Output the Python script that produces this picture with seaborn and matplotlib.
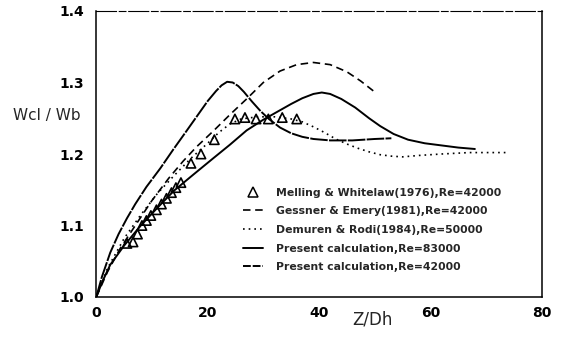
import matplotlib
matplotlib.use("Agg")
import matplotlib.pyplot as plt
from matplotlib.lines import Line2D
import seaborn as sns
import pandas as pd

# Melling & Whitelaw (1976), Re=42000 (triangles)
mw_x = [5.5, 6.6, 7.4, 8.2, 9.0, 9.8, 10.8, 11.7, 12.6, 13.5, 14.3, 15.2,
        17.0, 18.8, 21.2, 24.9, 26.7, 28.7, 30.9, 33.4, 36.0]
mw_y = [1.075, 1.077, 1.088, 1.100, 1.107, 1.114, 1.122, 1.130, 1.138, 1.146,
        1.153, 1.160, 1.187, 1.200, 1.220, 1.249, 1.251, 1.249, 1.249, 1.251, 1.249]

# Gessner & Emery (1981), Re=42000 (dashed)
ge_x = [0, 2, 4.3, 7, 10, 13, 15.6, 18, 21, 24, 27, 30, 33, 36, 39, 42, 45, 47.5, 49.8]
ge_y = [1.0, 1.035, 1.068, 1.1, 1.135, 1.166, 1.19, 1.21, 1.232, 1.255, 1.277,
        1.3, 1.316, 1.325, 1.328, 1.325, 1.315, 1.302, 1.288]

# Demuren & Rodi (1984), Re=50000 (dotted)
dr_x = [0, 2, 5, 8, 11, 14, 17, 20, 22, 24, 26, 29, 32, 35, 37, 39, 41, 43,
        45, 47, 49, 51, 53, 55, 58, 62, 67, 73.7]
dr_y = [1.0, 1.04, 1.082, 1.115, 1.145, 1.17, 1.194, 1.215, 1.23, 1.242, 1.249,
        1.252, 1.252, 1.249, 1.245, 1.238, 1.23, 1.221, 1.214, 1.208, 1.203,
        1.199, 1.197, 1.196, 1.198, 1.2, 1.202, 1.202]

# Present calculation, Re=83000 (solid)
p83_x = [0, 1, 2.5, 5, 8, 11, 14, 17.4, 21, 24, 27, 30, 32.5, 35, 37, 39, 40.5,
         42, 44, 46.5, 49, 51, 53.4, 56, 59, 62, 65, 68]
p83_y = [1.0, 1.02, 1.045, 1.072, 1.1, 1.125, 1.149, 1.171, 1.194, 1.213, 1.233,
         1.248, 1.259, 1.27, 1.278, 1.284, 1.286, 1.284, 1.277, 1.265, 1.25, 1.239,
         1.228, 1.22, 1.215, 1.212, 1.209, 1.207]

# Present calculation, Re=42000
p42_x = [0, 1, 2.5, 4, 5.5, 7, 9, 11.5, 13.8, 16, 18, 20, 21.5, 22.5, 23.5, 24.5,
         25.5, 26.5, 28, 29.5, 31, 33, 35, 37, 39, 42, 46, 50, 53]
p42_y = [1.0, 1.028, 1.062, 1.088, 1.11, 1.13, 1.154, 1.18, 1.206, 1.23, 1.252,
         1.274, 1.288, 1.296, 1.301, 1.3, 1.295, 1.287, 1.273, 1.26, 1.249, 1.237,
         1.229, 1.224, 1.221, 1.219, 1.219, 1.221, 1.222]

labels = ["Melling & Whitelaw(1976),Re=42000",
          "Gessner & Emery(1981),Re=42000",
          "Demuren & Rodi(1984),Re=50000",
          "Present calculation,Re=83000",
          "Present calculation,Re=42000"]

x_ticks = [0, 20, 40, 60, 80]
y_ticks = [1.0, 1.1, 1.2, 1.3, 1.4]

sns.set_style("white")
plt.rcParams['font.family'] = ['DejaVu Sans']

fig = plt.figure(figsize=(5.61, 3.40), dpi=100)
ax = fig.add_axes([96.3 / 561, 1 - 297 / 340, (541.7 - 96.3) / 561, (297 - 11) / 340])

lw = 1.2
styles = {
    "ge": (0, (4.5, 2.8)),
    "dr": (0, (1, 2.4)),
    "p83": "-",
    "p42": (0, (9, 0.7)),
}

def draw_line(xs, ys, style, width):
    df = pd.DataFrame({"x": xs, "y": ys})
    sns.lineplot(data=df, x="x", y="y", ax=ax, color="black", lw=width,
                 linestyle=style, sort=False, estimator=None,
                 solid_joinstyle="round", dash_joinstyle="round")

draw_line(ge_x, ge_y, styles["ge"], lw)
draw_line(dr_x, dr_y, styles["dr"], lw)
draw_line(p83_x, p83_y, styles["p83"], 1.4)
draw_line(p42_x, p42_y, styles["p42"], 1.4)

sns.scatterplot(data=pd.DataFrame({"x": mw_x, "y": mw_y}), x="x", y="y", ax=ax,
                marker="^", s=45, facecolor="none", edgecolor="black", linewidth=1.2,
                zorder=5)

ax.set_xlim(0, 80)
ax.set_ylim(1.0, 1.4)
ax.set_xticks(x_ticks)
ax.set_yticks(y_ticks)
ax.set_xticklabels([f"{t}" for t in x_ticks], fontsize=10, fontweight="bold")
ax.set_yticklabels([f"{t:.1f}" for t in y_ticks], fontsize=10, fontweight="bold")
ax.tick_params(axis="x", direction="inout", length=7, width=1.1, pad=3, colors="black")
ax.tick_params(axis="y", direction="out", length=6, width=1.1, pad=3, colors="black")

for side in ["left", "right", "bottom", "top"]:
    ax.spines[side].set_visible(True)
    ax.spines[side].set_color("black")
    ax.spines[side].set_linewidth(1.1)
ax.spines["top"].set_linestyle((0, (18, 2.5, 6, 2.5)))
ax.spines["top"].set_linewidth(0.8)

ax.set_xlabel("Z/Dh", fontsize=12)
ax.set_ylabel("Wcl / Wb", fontsize=11, rotation=0)
ax.xaxis.set_label_coords(0.619, -0.08)
ax.yaxis.set_label_coords(-0.111, 0.636)
ax.xaxis.label.set_va("center")
ax.yaxis.label.set_va("center")
ax.yaxis.label.set_ha("center")

handles = [
    Line2D([], [], marker="^", linestyle="none", markersize=6.5,
           markerfacecolor="none", markeredgecolor="black", markeredgewidth=1.1),
    Line2D([], [], color="black", lw=lw, linestyle=styles["ge"]),
    Line2D([], [], color="black", lw=lw, linestyle=styles["dr"]),
    Line2D([], [], color="black", lw=1.4, linestyle=styles["p83"]),
    Line2D([], [], color="black", lw=1.4, linestyle=(0, (4, 1))),
]
leg = ax.legend(handles, labels, loc="upper left",
                bbox_to_anchor=(243 / 561, 1 - 187.5 / 340), bbox_transform=fig.transFigure,
                frameon=False, borderpad=0, borderaxespad=0, handlelength=1.8,
                handletextpad=1.2, labelspacing=0.8,
                prop={"size": 7.8, "weight": "bold"})

fig.savefig("out.png", dpi=100)
